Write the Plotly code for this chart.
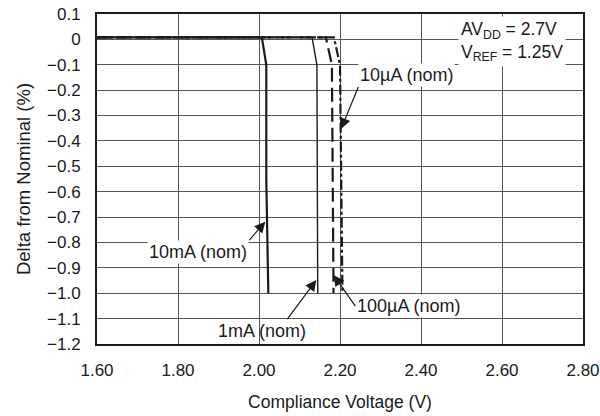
import plotly.graph_objects as go

# ---- data ----
v_10mA = [1.60, 2.007, 2.018, 2.018, 2.023]
d_10mA = [0.008, 0.008, -0.10, -0.55, -1.00]

v_1mA = [1.60, 2.131, 2.143, 2.145]
d_1mA = [0.008, 0.008, -0.10, -1.00]

v_100uA = [1.60, 2.165, 2.180, 2.184]
d_100uA = [0.008, 0.008, -0.10, -1.00]

v_10uA = [1.60, 2.185, 2.200, 2.206]
d_10uA = [0.008, 0.008, -0.10, -1.00]

x_ticks = [1.6, 1.8, 2.0, 2.2, 2.4, 2.6, 2.8]
x_labels = ["1.60", "1.80", "2.00", "2.20", "2.40", "2.60", "2.80"]
y_ticks = [0.1, 0, -0.1, -0.2, -0.3, -0.4, -0.5, -0.6, -0.7, -0.8, -0.9, -1.0, -1.1, -1.2]
y_labels = ["0.1", "0", "\u22120.1", "\u22120.2", "\u22120.3", "\u22120.4", "\u22120.5",
            "\u22120.6", "\u22120.7", "\u22120.8", "\u22120.9", "\u22121.0", "\u22121.1", "\u22121.2"]

NB = "\u00a0"
# labels: (text, head_x, head_y, tail_x, tail_y, xanchor, yanchor, bg)
labels = [
    ("10\u00b5A (nom)", 2.2025, -0.3531, 2.2452, -0.1876, "left", "bottom", "white"),
    ("10mA (nom)", 2.0156, -0.7184, 1.9760, -0.7905, "right", "top", "white"),
    ("1mA (nom)" + NB * 10, 2.1415, -0.948, 2.0699, -1.1017, "center", "top", "rgba(0,0,0,0)"),
    ("100\u00b5A (nom)", 2.1842, -0.9284, 2.2378, -1.0505, "left", "middle", "white"),
]

FONT = "Liberation Sans, Arial, Helvetica, sans-serif"
INK = "#1a1a1a"

fig = go.Figure()
fig.add_trace(go.Scatter(x=v_10mA, y=d_10mA, mode="lines",
                         line=dict(color=INK, width=2.2), name="10mA"))
fig.add_trace(go.Scatter(x=v_1mA, y=d_1mA, mode="lines",
                         line=dict(color=INK, width=1.4), name="1mA"))
fig.add_trace(go.Scatter(x=v_100uA, y=d_100uA, mode="lines",
                         line=dict(color=INK, width=2.2, dash="14px,6px"), name="100uA"))
fig.add_trace(go.Scatter(x=v_10uA, y=d_10uA, mode="lines",
                         line=dict(color=INK, width=2.2, dash="10px,3px,3px,3px"), name="10uA"))

annotations = []
for text, hx, hy, sx, sy, xa, ya, bg in labels:
    annotations.append(dict(x=hx, y=hy, ax=sx, ay=sy, xref="x", yref="y",
                            axref="x", ayref="y", text=text, showarrow=True,
                            xanchor=xa, yanchor=ya,
                            arrowhead=2, arrowsize=1.8, arrowwidth=1.2,
                            arrowcolor=INK, bgcolor=bg, borderpad=1,
                            font=dict(family=FONT, size=18, color=INK)))

annotations.append(dict(x=2.757, y=0.092, xref="x", yref="y",
                        xanchor="right", yanchor="top", align="left",
                        text="AV<sub>DD</sub> = 2.7V<br>V<sub>REF</sub> = 1.25V",
                        showarrow=False, bgcolor="white", borderpad=2,
                        font=dict(family=FONT, size=17.5, color=INK)))

fig.update_layout(
    width=600, height=416,
    margin=dict(l=97, r=17, t=14, b=72, autoexpand=False),
    paper_bgcolor="white", plot_bgcolor="white",
    showlegend=False,
    font=dict(family=FONT, color=INK, size=16),
    annotations=annotations,
)
fig.update_xaxes(range=[1.6, 2.8], tickvals=x_ticks, ticktext=x_labels,
                 showgrid=True, gridcolor="#555555", gridwidth=1,
                 zeroline=False, showline=True, mirror=True,
                 linecolor=INK, linewidth=2, ticks="", ticklabelstandoff=10,
                 tickfont=dict(size=17),
                 title=dict(text="Compliance Voltage (V)", font=dict(size=17.5), standoff=16))
fig.update_yaxes(range=[-1.2, 0.1], tickvals=y_ticks, ticktext=y_labels,
                 showgrid=True, gridcolor="#555555", gridwidth=1,
                 zeroline=False, showline=True, mirror=True,
                 linecolor=INK, linewidth=2, ticks="", ticklabelstandoff=11,
                 tickfont=dict(size=17),
                 title=dict(text="Delta from Nominal (%)", font=dict(size=18.5), standoff=12))

fig.write_html("out.html", config={"displayModeBar": False},
               post_script="document.body.style.margin='0';document.body.style.overflow='hidden';")
